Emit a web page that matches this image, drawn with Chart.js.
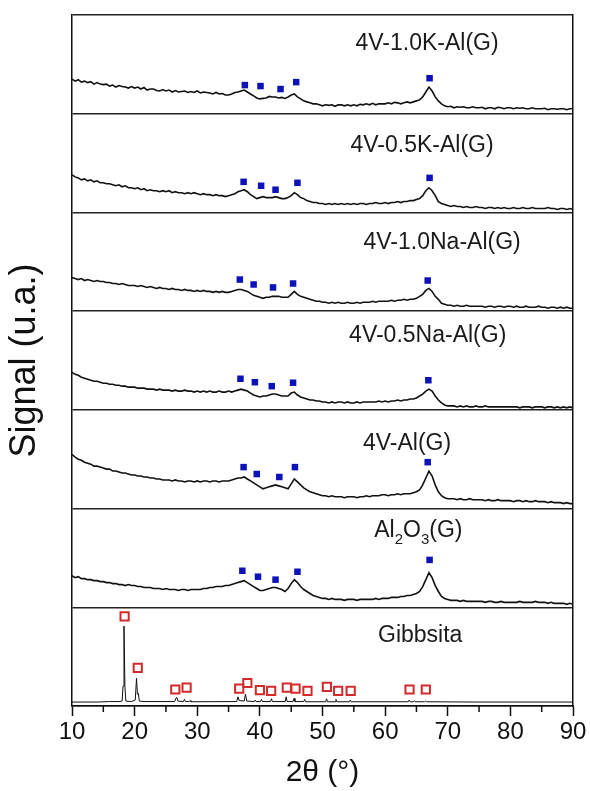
<!DOCTYPE html>
<html>
<head>
<meta charset="utf-8">
<script src="https://cdn.jsdelivr.net/npm/chart.js@4.4.1/dist/chart.umd.min.js"></script>
<style>
  html, body { margin: 0; padding: 0; background: #fff; }
  canvas { display: block; }
</style>
</head>
<body>
<canvas id="xrd" width="590" height="791"></canvas>
<script>
// 2θ sampling of the amorphous patterns (degrees)
const TWO_THETA = [
  10,10.5,11,11.5,12,12.5,13,13.5,14,14.5,
  15,15.5,16,16.5,17,17.5,18,18.5,19,19.5,
  20,20.5,21,21.5,22,22.5,23,23.5,24,24.5,
  25,25.5,26,26.5,27,27.5,28,28.5,29,29.5,
  30,30.5,31,31.5,32,32.5,33,33.5,34,34.5,
  35,35.5,36,36.5,37,37.5,38,38.5,39,39.5,
  40,40.5,41,41.5,42,42.5,43,43.5,44,44.5,
  45,45.5,46,46.5,47,47.5,48,48.5,49,49.5,
  50,50.5,51,51.5,52,52.5,53,53.5,54,54.5,
  55,55.5,56,56.5,57,57.5,58,58.5,59,59.5,
  60,60.5,61,61.5,62,62.5,63,63.5,64,64.5,
  65,65.5,66,66.5,67,67.5,68,68.5,69,69.5,
  70,70.5,71,71.5,72,72.5,73,73.5,74,74.5,
  75,75.5,76,76.5,77,77.5,78,78.5,79,79.5,
  80,80.5,81,81.5,82,82.5,83,83.5,84,84.5,
  85,85.5,86,86.5,87,87.5,88,88.5,89,89.5,
  90
];

// signal, in % of one panel height
const k10 = [
  35,33,34.5,32,33,31.5,32.5,30,31.5,30, 29.5,30,28,29,27,28.5,27.5,27,26,27.5,
  26,27,25,26.5,24,25,25,23.5,23,24.5, 23,24,22,23.5,22,22.5,23,21.5,22.5,21.5,
  23,21,22,21.5,21,20,21.5,20,20.5,19, 19,20,21.5,22,23,24,22,20,18,16,
  15,15.5,16,17.5,17,17,16,16.5,15.5,17, 19,20,17,15,13,12,11,10,10,9,
  8,9,8.5,9,7.5,9,9,8,9,8, 9,8,9.5,9,10,9,10.5,9,10,10,
  10,11,10,11.5,11,10,11,12,11,12, 13,14,17,22,27,23,17,13,10,8,
  7,7.5,6,7,6.5,7,6,6,7,6, 6,6.5,5,6,6,5,6.5,6,5,6,
  6,5,6,5.5,6,5,5,6,5,5, 5,5.5,4,5,5,4.5,5,5,4,5,
  5
];
const k05 = [
  38,36,35,33,34,32,33,31,32,30, 30,29,29,28,27,28,26,27,25,25,
  24,25,23,24,22,23,22,22,21,22, 21,22,20,21,20,20,19,20,19,20,
  19,18,19,18,18,17,18,17,17,16, 17,18,19,21,22,23,21,18,16,14,
  15,16,15,15,15,16,15,14,14,15, 17,20,18,15,14,12,11,10,10,9,
  9,8,9,8,9,8,9,8,9,8, 9,8,9,9,8,9,9,10,9,9,
  10,9,10,10,11,10,11,11,12,12, 13,14,17,22,25,22,17,11,9,8,
  7,6,7,6,6,5,6,5,5,6, 5,5,4,5,5,4,5,4,5,4,
  4,5,4,4,5,4,4,5,4,4, 4,4,5,4,4,3,4,4,3,4,
  3
];
const na10 = [
  34,33,32,33,31,32,31,30,31,30, 30,29,29,28,28,27,28,27,26,26,
  26,25,26,25,24,25,24,23,24,23, 23,22,23,22,22,21,22,21,21,20,
  21,20,21,20,20,19,20,19,20,19, 19,20,21,22,22,21,20,18,16,15,
  14,13,14,14,15,15,15,14,14,14, 17,20,17,15,14,13,12,11,10,10,
  9,9,8,9,8,9,8,8,9,8, 8,9,8,9,9,9,10,9,10,10,
  10,10,11,10,11,11,12,11,12,12, 13,15,17,21,23,20,15,12,8,7,
  6,6,5,6,5,5,6,5,5,5, 5,5,4,5,5,4,5,5,4,5,
  5,4,5,4,4,5,4,4,4,5, 4,4,3,4,4,3,4,3,4,3,
  3
];
const na05 = [
  38,36,35,33,32,31,30,29,29,28, 27,27,26,26,25,25,24,24,23,23,
  23,22,22,22,21,21,21,20,21,20, 20,20,19,20,19,19,20,19,19,18,
  19,18,19,18,19,18,18,19,18,18, 19,18,19,20,21,20,19,17,15,14,
  13,14,14,15,16,16,15,14,14,14, 17,18,15,13,12,11,10,10,9,9,
  8,8,7,8,7,8,8,7,8,7, 7,8,7,8,8,8,8,8,9,8,
  9,8,9,9,10,9,10,10,11,11, 12,14,16,19,21,19,14,10,7,5,
  4,4,4,3,4,3,4,3,3,4, 3,3,4,3,3,3,3,3,3,3,
  3,3,3,2,3,3,3,2,3,3, 3,2,3,3,2,3,2,3,2,3,
  2
];
const v4al = [
  55,52,50,49,47,46,45,43,43,42, 41,40,40,38,38,37,36,36,35,34,
  34,33,33,32,32,31,31,30,30,29, 29,29,28,29,28,28,27,28,28,27,
  28,27,28,28,27,28,28,27,28,28, 28,29,30,31,31,32,30,28,26,24,
  22,20,21,22,23,24,23,22,21,20, 25,30,27,24,21,19,17,16,15,14,
  13,13,12,13,12,12,12,11,12,12, 12,11,12,12,13,12,13,13,13,14,
  14,13,14,14,15,14,15,15,15,16, 17,19,24,31,38,33,24,17,13,11,
  10,10,10,9,10,9,9,10,9,9, 9,9,8,9,8,8,9,8,8,8,
  8,7,8,8,7,8,7,7,8,7, 7,7,6,7,6,6,6,5,6,5,
  5
];
const al2o3 = [
  32,30,31,29,29,28,28,27,27,26, 26,25,25,24,24,23,23,22,23,22,
  22,21,21,20,20,20,19,19,19,18, 19,18,18,18,17,18,18,17,18,18,
  18,18,19,19,20,20,21,21,21,22, 22,23,24,25,26,27,25,23,21,19,
  17,17,18,19,20,20,19,18,16,19, 24,28,25,21,18,16,14,12,11,10,
  9,9,8,9,8,8,8,7,8,8, 8,7,8,8,8,8,8,9,8,9,
  9,9,10,10,10,11,11,12,12,13, 14,16,21,28,35,30,22,16,11,9,
  8,7,7,7,6,7,6,6,6,6, 6,6,5,6,6,5,5,6,5,5,
  5,5,5,6,5,5,5,5,6,5, 5,5,4,5,4,4,4,4,3,4,
  3
];

// gibbsite reference pattern: sharp lines, own 2θ points
const gibX = [10,14,16,17.5,18,18.15,18.3,18.45,18.6,19.5,20.1,20.3,20.45,20.6,20.75,21.5,
  26.4,26.6,26.75,26.9,27.8,27.95,28.1,28.7,28.85,29,36.3,36.5,36.7,37.5,37.7,37.9,
  39.1,39.25,39.4,40.1,40.25,40.4,41.7,41.85,42,44.05,44.2,44.35,45.3,45.45,45.6,
  47,47.15,47.3,50.5,50.65,50.8,52,52.15,52.3,54.3,54.45,54.6,63.7,63.85,64,
  64.5,64.65,64.8,66.3,66.45,66.6,75,90];
const gibY = [4,4,4.5,4.5,5,20,81,20,5,4.5,6,28,12,12.7,5,4.5,
  4.5,8,8.7,5,4.5,6.7,4.5,4.5,5.5,4.3,4.5,9.3,5.5,5,12,5,
  4.5,6,4.5,4.5,6.7,4.5,4.5,7.3,4.5,4.5,9.3,4.5,4.5,7.7,4.5,
  4.5,6.7,4.3,4.3,7.3,4.3,4.3,6.7,4.3,4.3,6,4.3,4.3,6,4.3,
  4.3,5.3,4.3,4.3,5,4.3,4,4];

// peak markers: 2θ and height (% of panel)
const mkK10X = [37.6,40.1,43.3,45.8,67.1],  mkK10Y = [29,28,25,32,36];
const mkK05X = [37.4,40.2,42.5,46.0,67.1],  mkK05Y = [31,27,23,30,35];
const mkNa10X = [36.8,39.0,42.1,45.3,66.8], mkNa10Y = [32,27,24,28,31];
const mkNa05X = [36.9,39.2,41.9,45.3,66.9], mkNa05Y = [31.5,28,24,27.5,30];
const mkAlX = [37.4,39.5,43.1,45.6,66.8],   mkAlY = [42,35,32,42,47];
const mkOxX = [37.2,39.7,42.5,46.0,67.1],   mkOxY = [37,31,28,36,48];
const mkGibX = [18.4,20.5,26.5,28.3,36.7,38.0,40.0,41.8,44.3,45.7,47.6,50.7,52.5,54.5,63.9,66.5];
const mkGibY = [90.7,38.7,16.7,18.7,17.7,23.3,16,15.3,18.7,17.7,15.3,19.3,15.3,15.3,16.7,16.7];

// panels, bottom to top
const PANEL_NAMES = ['Gibbsita', 'Al2O3(G)', '4V-Al(G)', '4V-0.5Na-Al(G)', '4V-1.0Na-Al(G)', '4V-0.5K-Al(G)', '4V-1.0K-Al(G)'];
const LABEL_X = [65.6, 65.3, 63.5, 66.8, 69.1, 65.9, 66.7];
const LABEL_Y = [71.6, 77.7, 66, 75, 69.6, 68, 71];
const MINOR_TICKS = [15, 25, 35, 45, 55, 65, 75, 85];

const FONT = '"Liberation Sans", Arial, sans-serif';

function toPanel(xs, ys, panel) {
  return xs.map((x, i) => ({ x: x, y: panel + ys[i] / 100 }));
}

const curves = [
  toPanel(gibX, gibY, 0),
  toPanel(TWO_THETA, al2o3, 1),
  toPanel(TWO_THETA, v4al, 2),
  toPanel(TWO_THETA, na05, 3),
  toPanel(TWO_THETA, na10, 4),
  toPanel(TWO_THETA, k05, 5),
  toPanel(TWO_THETA, k10, 6)
];
const blueMarks = [
  toPanel(mkOxX, mkOxY, 1), toPanel(mkAlX, mkAlY, 2), toPanel(mkNa05X, mkNa05Y, 3),
  toPanel(mkNa10X, mkNa10Y, 4), toPanel(mkK05X, mkK05Y, 5), toPanel(mkK10X, mkK10Y, 6)
].flat();
const redMarks = toPanel(mkGibX, mkGibY, 0);

const datasets = curves.map((d, i) => ({
  data: d, showLine: true, borderColor: '#111', borderWidth: i === 0 ? 1 : 1.6, pointRadius: 0, tension: 0
}));
datasets.push({
  data: blueMarks, showLine: false, pointStyle: 'rect', pointRadius: 4.6,
  backgroundColor: '#0d12b8', borderColor: '#0d12b8', borderWidth: 0
});
datasets.push({
  data: redMarks, showLine: false, pointStyle: 'rect', pointRadius: 5.8,
  backgroundColor: 'rgba(255,255,255,0)', borderColor: '#d22a2a', borderWidth: 2
});

const decor = {
  id: 'decor',
  afterDatasetsDraw(chart) {
    const ctx = chart.ctx, x = chart.scales.x, y = chart.scales.y;
    ctx.save();
    // minor ticks
    ctx.strokeStyle = '#111';
    ctx.lineWidth = 1.5;
    MINOR_TICKS.forEach(v => {
      const px = x.getPixelForValue(v);
      ctx.beginPath();
      ctx.moveTo(px, y.bottom);
      ctx.lineTo(px, y.bottom + 6);
      ctx.stroke();
    });
    // panel labels
    ctx.fillStyle = '#1a1a1a';
    ctx.textBaseline = 'middle';
    PANEL_NAMES.forEach((name, i) => {
      const cx = x.getPixelForValue(LABEL_X[i]);
      const cy = y.getPixelForValue(i + LABEL_Y[i] / 100);
      if (name === 'Al2O3(G)') {
        const parts = [['Al', 0], ['2', 1], ['O', 0], ['3', 1], ['(G)', 0]];
        let w = 0;
        parts.forEach(p => {
          ctx.font = (p[1] ? '15px ' : '23px ') + FONT;
          w += ctx.measureText(p[0]).width;
        });
        let px = cx - w / 2;
        ctx.textAlign = 'left';
        parts.forEach(p => {
          ctx.font = (p[1] ? '15px ' : '23px ') + FONT;
          ctx.fillText(p[0], px, p[1] ? cy + 9 : cy);
          px += ctx.measureText(p[0]).width;
        });
      } else {
        ctx.font = '23px ' + FONT;
        ctx.textAlign = 'center';
        ctx.fillText(name, cx, cy);
      }
    });
    ctx.restore();
  }
};

new Chart(document.getElementById('xrd'), {
  type: 'scatter',
  data: { datasets: datasets },
  options: {
    responsive: false,
    animation: false,
    devicePixelRatio: 1,
    layout: { padding: { top: 15, left: 0, right: 0, bottom: 0 } },
    plugins: { legend: { display: false }, tooltip: { enabled: false } },
    scales: {
      x: {
        type: 'linear', min: 10, max: 90,
        ticks: { stepSize: 10, color: '#111', padding: 2, font: { size: 24, family: FONT } },
        grid: { drawOnChartArea: false, drawTicks: true, tickLength: 10, tickColor: '#111', tickWidth: 1.5 },
        border: { color: '#111', width: 1.5 },
        title: { display: true, text: '2θ (°)', color: '#111', padding: { top: 0, bottom: 0 }, font: { size: 30, family: FONT } },
        afterFit(s) { s.height = 85; }
      },
      y: {
        type: 'linear', min: 0, max: 7,
        ticks: { stepSize: 1, display: false },
        grid: { drawTicks: false, color: '#222', lineWidth: 1.5 },
        border: { color: '#111', width: 1.5 },
        title: { display: true, text: 'Signal (u.a.)', color: '#111', padding: { top: 3, bottom: 0 }, font: { size: 36, family: FONT } },
        afterFit(s) { s.width = 72; }
      },
      y2: {
        type: 'linear', position: 'right', min: 0, max: 7,
        ticks: { display: false },
        grid: { display: false, drawTicks: false },
        border: { color: '#111', width: 1.5 },
        afterFit(s) { s.width = 17; }
      }
    }
  },
  plugins: [decor]
});
</script>
</body>
</html>
